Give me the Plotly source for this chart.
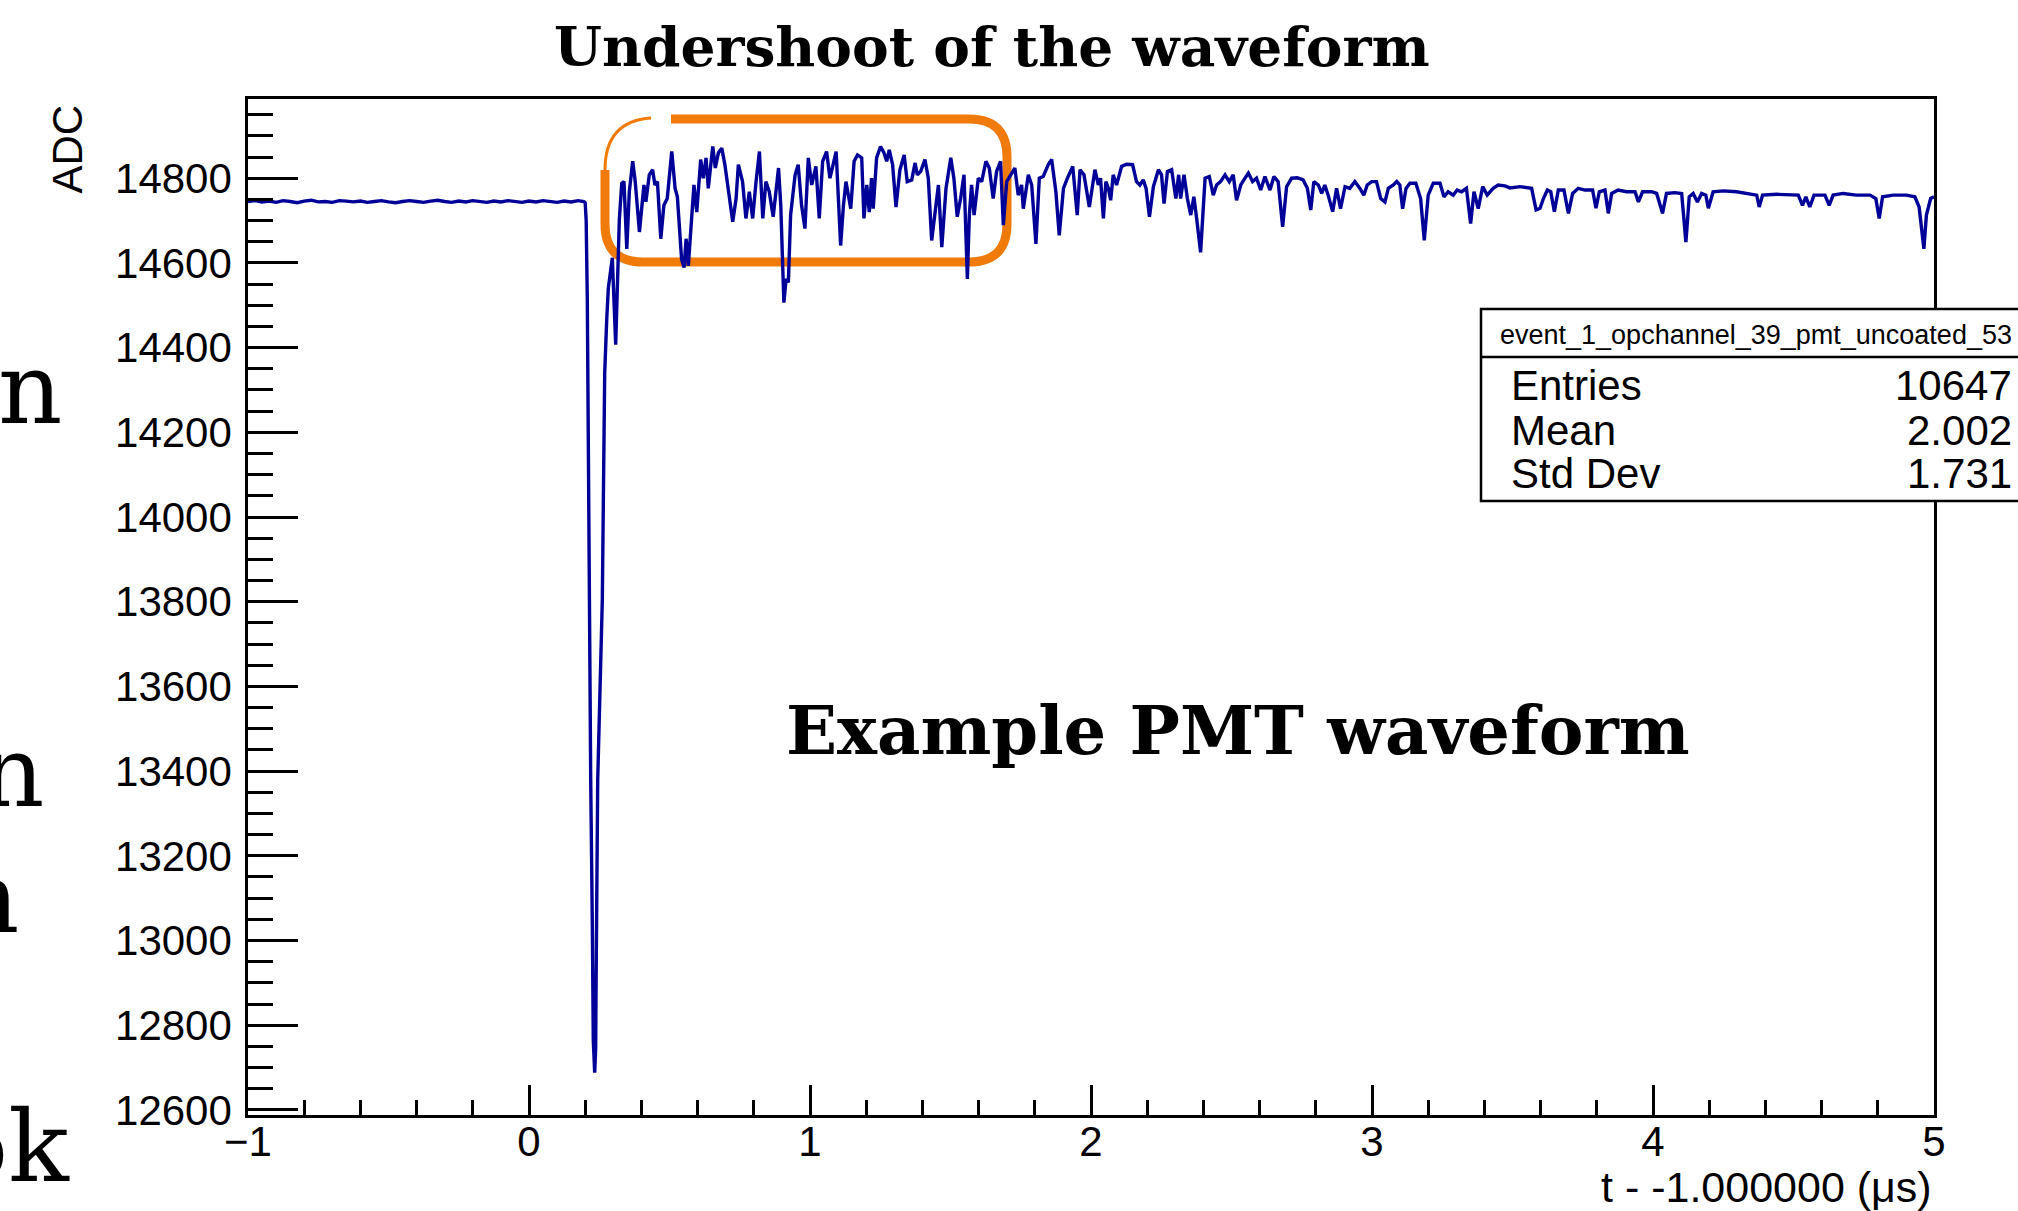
import plotly.graph_objects as go

# ---------------- data ----------------
t_us = [
    -1.000, -0.975, -0.950, -0.925, -0.900, -0.875, -0.850, -0.825, -0.800, -0.775,
    -0.750, -0.725, -0.700, -0.675, -0.650, -0.625, -0.600, -0.575, -0.550, -0.525,
    -0.500, -0.475, -0.450, -0.425, -0.400, -0.375, -0.350, -0.325, -0.300, -0.275,
    -0.250, -0.225, -0.200, -0.175, -0.150, -0.125, -0.100, -0.075, -0.050, -0.025,
    0.000, 0.025, 0.050, 0.075, 0.100, 0.125, 0.150, 0.175, 0.195, 0.200,
    0.2035, 0.2075, 0.2146, 0.2196, 0.2253, 0.2288, 0.2338, 0.2374, 0.2384, 0.2409,
    0.2445, 0.2609, 0.2644, 0.2694, 0.2765, 0.2822, 0.2965, 0.3085, 0.3214,
    0.330, 0.338, 0.348, 0.357, 0.369, 0.378, 0.393, 0.409, 0.416, 0.428,
    0.440, 0.448, 0.457, 0.469, 0.480, 0.492, 0.508, 0.520, 0.528, 0.543,
    0.552, 0.559, 0.567, 0.587, 0.597, 0.611, 0.620, 0.630, 0.638, 0.654,
    0.663, 0.674, 0.686, 0.697, 0.709, 0.725, 0.737, 0.745, 0.760, 0.772,
    0.784, 0.796, 0.808, 0.820, 0.832, 0.843, 0.855, 0.869, 0.888, 0.896,
    0.907, 0.915, 0.923, 0.931, 0.947, 0.958, 0.970, 0.982, 0.994, 1.006,
    1.021, 1.033, 1.045, 1.059, 1.071, 1.093, 1.109, 1.119, 1.128, 1.145,
    1.157, 1.169, 1.184, 1.192, 1.202, 1.211, 1.219, 1.225, 1.237, 1.251,
    1.263, 1.273, 1.282, 1.294, 1.306, 1.320, 1.335, 1.346, 1.362, 1.374,
    1.382, 1.394, 1.409, 1.421, 1.433, 1.445, 1.457, 1.469, 1.484, 1.501,
    1.512, 1.524, 1.536, 1.548, 1.560, 1.567, 1.575, 1.584, 1.599, 1.611,
    1.626, 1.638, 1.652, 1.664, 1.678, 1.688, 1.700, 1.729, 1.741, 1.753,
    1.759, 1.777, 1.789, 1.804, 1.816, 1.830, 1.848, 1.860, 1.875, 1.887,
    1.902, 1.916, 1.935, 1.951, 1.961, 1.975, 1.994,
    2.014, 2.026, 2.034, 2.044, 2.053, 2.062, 2.070, 2.079, 2.091, 2.109,
    2.127, 2.148, 2.162, 2.174, 2.186, 2.196, 2.208, 2.222, 2.240, 2.251,
    2.260, 2.272, 2.287, 2.302, 2.312, 2.319, 2.331, 2.343, 2.355, 2.366,
    2.376, 2.390, 2.406, 2.421, 2.435, 2.447, 2.461, 2.477, 2.492, 2.506,
    2.518, 2.533, 2.544, 2.560, 2.575, 2.589, 2.604, 2.619, 2.637, 2.651,
    2.666, 2.682, 2.696, 2.714, 2.734, 2.755, 2.770, 2.782, 2.793, 2.809,
    2.821, 2.832, 2.844, 2.860, 2.874, 2.888, 2.904, 2.921, 2.939, 2.957,
    2.971, 2.983, 2.999, 3.016, 3.031, 3.046, 3.058, 3.076, 3.088, 3.099,
    3.109, 3.121, 3.135, 3.156, 3.173, 3.186, 3.200, 3.218, 3.242, 3.256,
    3.271, 3.289, 3.303, 3.319, 3.336, 3.351, 3.363, 3.378, 3.394, 3.410,
    3.431, 3.449, 3.473, 3.491,
    3.527, 3.568, 3.584, 3.598, 3.610, 3.624, 3.636, 3.649, 3.663, 3.683,
    3.699, 3.714, 3.734, 3.758, 3.785, 3.797, 3.809, 3.829, 3.841, 3.853,
    3.876, 3.906, 3.936, 3.948, 3.963, 3.995, 4.013, 4.034, 4.048, 4.078,
    4.102, 4.117, 4.129, 4.143, 4.158, 4.173, 4.188, 4.197, 4.214, 4.250,
    4.297, 4.345, 4.369, 4.378, 4.390, 4.440, 4.487, 4.517, 4.532, 4.544,
    4.558, 4.573, 4.612, 4.627, 4.641, 4.677, 4.724, 4.772, 4.793, 4.805,
    4.817, 4.855, 4.902, 4.932, 4.947, 4.964, 4.973, 4.988, 5.000,
]
adc = [
    14745, 14747, 14744, 14746, 14743, 14747, 14745, 14742, 14746, 14748,
    14744, 14745, 14743, 14747, 14746, 14744, 14746, 14743, 14745, 14747,
    14744, 14742, 14745, 14747, 14745, 14743, 14746, 14748, 14745, 14743,
    14746, 14744, 14747, 14745, 14743, 14746, 14744, 14747, 14745, 14743,
    14746, 14744, 14747, 14745, 14743, 14746, 14744, 14747, 14745, 14742,
    14700, 14512, 13804, 13378, 13040, 12764, 12688, 12747, 12866, 13024,
    13378, 13804, 14118, 14340, 14465, 14540, 14612, 14407, 14701,
    14788, 14792, 14633, 14768, 14840, 14792, 14673, 14784, 14744, 14808,
    14820, 14784, 14792, 14657, 14736, 14752, 14863, 14776, 14756, 14609,
    14589, 14657, 14593, 14784, 14720, 14844, 14800, 14848, 14776, 14875,
    14824, 14860, 14871, 14832, 14776, 14697, 14752, 14832, 14792, 14705,
    14768, 14705, 14792, 14863, 14705, 14792, 14768, 14709, 14824, 14736,
    14506, 14562, 14554, 14713, 14808, 14832, 14736, 14681, 14848, 14784,
    14828, 14705, 14840, 14863, 14800, 14863, 14641, 14736, 14792, 14728,
    14840, 14855, 14848, 14705, 14784, 14720, 14800, 14728, 14848, 14875,
    14860, 14840, 14867, 14832, 14732, 14820, 14855, 14792, 14796, 14836,
    14808, 14816, 14844, 14800, 14653, 14720, 14784, 14637, 14776, 14848,
    14800, 14709, 14752, 14808, 14562, 14713, 14784, 14713, 14800, 14792,
    14840, 14824, 14752, 14816, 14840, 14689, 14792, 14824, 14760, 14784,
    14728, 14808, 14784, 14645, 14800, 14804, 14832, 14844, 14768, 14665,
    14776, 14800, 14828, 14713, 14820, 14808, 14732,
    14820, 14784, 14800, 14705, 14792, 14776, 14748, 14808, 14784, 14828,
    14833, 14832, 14792, 14784, 14796, 14776, 14709, 14780, 14820, 14808,
    14740, 14816, 14820, 14752, 14808, 14752, 14808, 14752, 14713, 14756,
    14705, 14625, 14800, 14804, 14760, 14784, 14792, 14808, 14792, 14808,
    14748, 14784, 14796, 14812, 14792, 14800, 14772, 14804, 14772, 14804,
    14792, 14685, 14780, 14800, 14801, 14796, 14776, 14725, 14792, 14784,
    14764, 14784, 14760, 14721, 14776, 14728, 14780, 14776, 14792, 14776,
    14760, 14784, 14792, 14792, 14752, 14744, 14776, 14784, 14792, 14784,
    14728, 14776, 14788, 14788, 14752, 14653, 14760, 14788, 14788, 14756,
    14768, 14760, 14772, 14768, 14776, 14693, 14768, 14728, 14780, 14760,
    14776, 14784, 14782, 14777,
    14780, 14776, 14725, 14729, 14752, 14772, 14768, 14721, 14772, 14772,
    14717, 14764, 14776, 14772, 14772, 14729, 14768, 14772, 14717, 14764,
    14772, 14768, 14768, 14744, 14768, 14768, 14764, 14717, 14764, 14766,
    14764, 14649, 14756, 14764, 14744, 14764, 14760, 14729, 14768, 14770,
    14768, 14764, 14760, 14732, 14760, 14762, 14760, 14760, 14736, 14756,
    14732, 14760, 14760, 14736, 14760, 14764, 14760, 14760, 14752, 14705,
    14756, 14760, 14760, 14756, 14732, 14633, 14713, 14752, 14756,
]

x_range = [-1, 5]
y_range = [12588, 14987]

title_text = "Undershoot of the waveform"
inner_label = "Example PMT waveform"
x_title = "t - -1.000000 (\u03bcs)"
y_title = "ADC"
stats_name = "event_1_opchannel_39_pmt_uncoated_53"
stats_labels = ["Entries", "Mean", "Std Dev"]
stats_values = ["10647", "2.002", "1.731"]
side_letters = ["n", "n", "n", "ok"]

# ---------------- layout geometry (screen pixels) ----------------
W, H = 2018, 1211
L, R, T, B = 248, 1934, 99, 1115   # plot frame


def px(X):
    return (X - L) / (R - L)


def py(Y):
    return (B - Y) / (B - T)


SANS = "Liberation Sans, Arial, Helvetica, sans-serif"
SERIF = "DejaVu Serif, serif"
BLUE = "#000099"
ORANGE = "#F07A0A"

fig = go.Figure()
fig.add_trace(go.Scatter(x=t_us, y=adc, mode="lines",
                         line=dict(color=BLUE, width=3.4), hoverinfo="skip",
                         showlegend=False))

axis_common = dict(showline=True, linecolor="black", linewidth=2.5, mirror=True,
                   showgrid=False, zeroline=False, ticks="inside",
                   tickcolor="black", tickwidth=2.5, automargin=False,
                   tickfont=dict(family=SANS, size=42, color="black"))

fig.update_xaxes(range=x_range, dtick=1, tick0=0, ticklen=30,
                 minor=dict(dtick=0.2, ticklen=15, tickwidth=2.5,
                            tickcolor="black", ticks="inside"),
                 ticklabelstandoff=-12, **axis_common)
fig.update_yaxes(range=y_range, dtick=200, tick0=0, ticklen=50,
                 minor=dict(dtick=50, ticklen=25, tickwidth=2.5,
                            tickcolor="black", ticks="inside"),
                 ticklabelstandoff=5, tickformat="d", **axis_common)


def P(X, Y):
    return f"{px(X):.5f},{py(Y):.5f}"


# orange hand-drawn rounded rectangle (thick part + thin start)
r = 38
xl, xr, yt, yb = 605, 1007, 119, 262
thick = (f"M {P(671, yt)} L {P(xr - r, yt)} Q {P(xr, yt)} {P(xr, yt + r)} "
         f"L {P(xr, yb - r)} Q {P(xr, yb)} {P(xr - r, yb)} "
         f"L {P(xl + r, yb)} Q {P(xl, yb)} {P(xl, yb - r)} L {P(xl, 170)}")
thin = f"M {P(xl, 170)} Q {P(xl, yt + 2)} {P(651, yt - 1)}"

shapes = [
    dict(type="path", path=thick, xref="paper", yref="paper",
         line=dict(color=ORANGE, width=9), layer="below"),
    dict(type="path", path=thin, xref="paper", yref="paper",
         line=dict(color=ORANGE, width=3), layer="below"),
    # stats box
    dict(type="rect", xref="paper", yref="paper", x0=px(1481), x1=px(2060),
         y0=py(501), y1=py(309), line=dict(color="black", width=2.5),
         fillcolor="white", layer="above"),
    dict(type="line", xref="paper", yref="paper", x0=px(1481), x1=px(2060),
         y0=py(357), y1=py(357), line=dict(color="black", width=2.5)),
]

ann = []
ann.append(dict(text=f"<b>{title_text}</b>", x=px(992), y=py(46),
                xanchor="center", yanchor="middle",
                font=dict(family=SERIF, size=55, color="black")))
ann.append(dict(text=f"<b>{inner_label}</b>", x=px(1238), y=py(730),
                xanchor="center", yanchor="middle",
                font=dict(family=SERIF, size=67, color="black")))
ann.append(dict(text=x_title, x=px(1933), y=py(1187), xanchor="right",
                yanchor="middle", font=dict(family=SANS, size=43, color="black")))
ann.append(dict(text=y_title, x=px(67), y=py(104), xanchor="center",
                yanchor="top", textangle=-90,
                font=dict(family=SANS, size=42, color="black")))
ann.append(dict(text=stats_name, x=px(1499), y=py(335), xanchor="left",
                yanchor="middle", font=dict(family=SANS, size=27, color="black")))
for lab, val, yy in zip(stats_labels, stats_values, [385, 430, 473]):
    ann.append(dict(text=lab, x=px(1510), y=py(yy), xanchor="left",
                    yanchor="middle", font=dict(family=SANS, size=42, color="black")))
    ann.append(dict(text=val, x=px(2013), y=py(yy), xanchor="right",
                    yanchor="middle", font=dict(family=SANS, size=42, color="black")))
for letter, xr_, yc in zip(side_letters, [63, 45, 20, 71], [388, 772, 898, 1146]):
    ann.append(dict(text=letter, x=px(xr_), y=py(yc), xanchor="right",
                    yanchor="middle",
                    font=dict(family=SERIF, size=100, color="black")))
for a in ann:
    a.update(xref="paper", yref="paper", showarrow=False, borderpad=0)

fig.update_layout(width=W, height=H,
                  margin=dict(l=L, r=W - R, t=T, b=H - B),
                  paper_bgcolor="white", plot_bgcolor="white",
                  shapes=shapes, annotations=ann, showlegend=False)

fig.write_html("out.html", config={"displayModeBar": False},
               post_script="document.body.style.margin='0';"
                           "document.body.style.overflow='hidden';")
